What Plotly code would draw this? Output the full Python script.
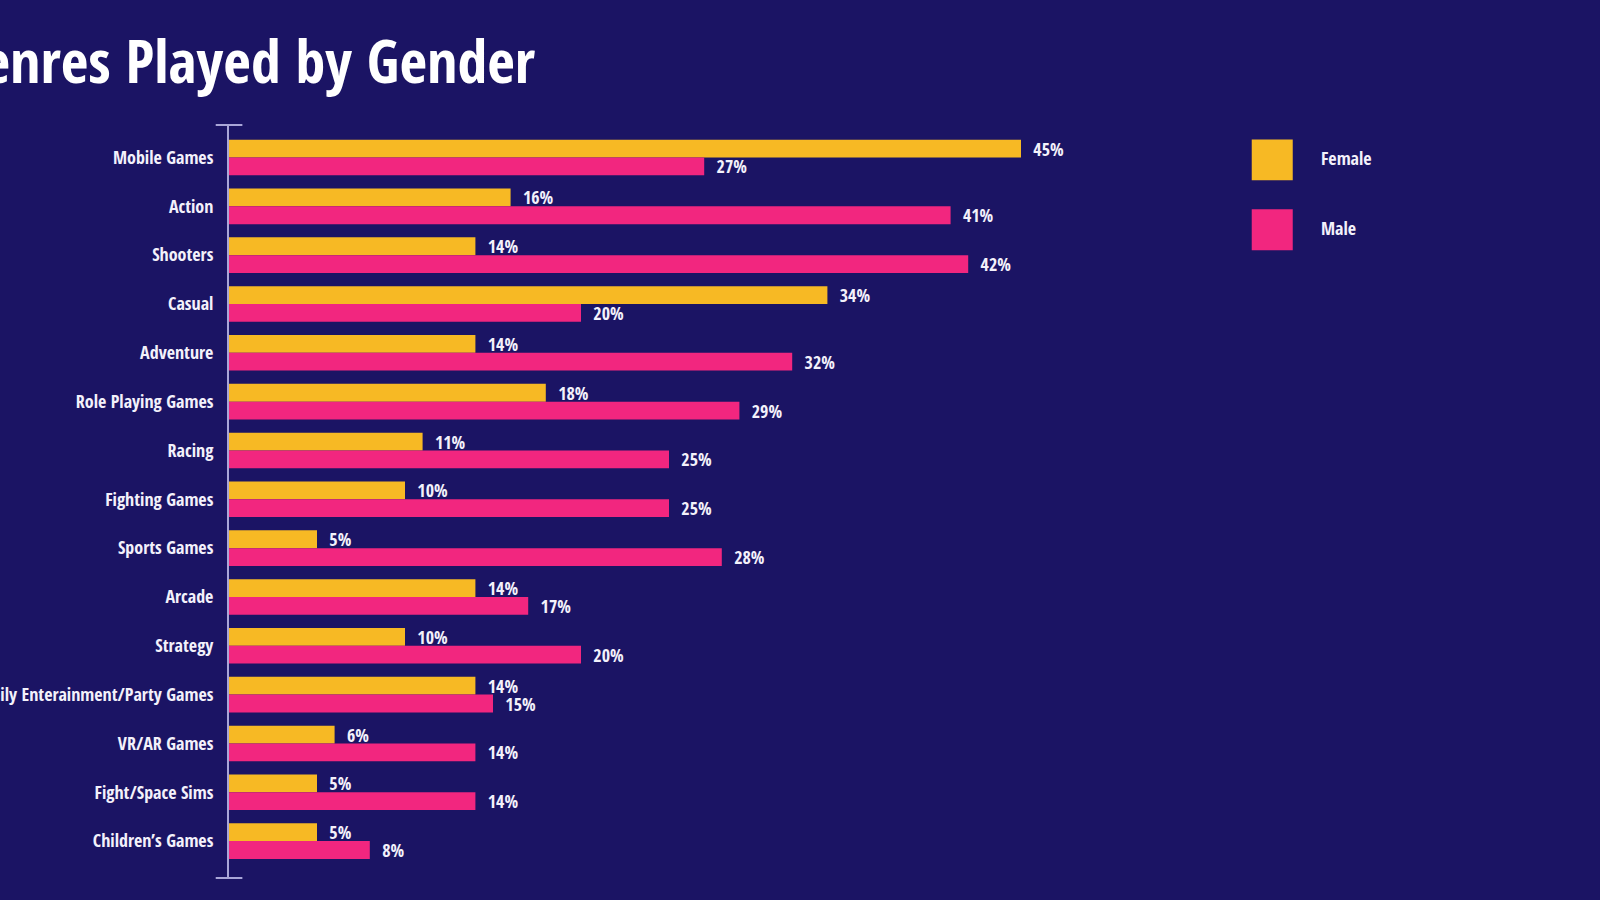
import plotly.graph_objects as go

# genres, top to bottom as they appear in the chart
genres = ["Mobile Games", "Action", "Shooters", "Casual", "Adventure",
          "Role Playing Games", "Racing", "Fighting Games", "Sports Games",
          "Arcade", "Strategy", "Family Enterainment/Party Games",
          "VR/AR Games", "Fight/Space Sims", "Children\u2019s Games"]
female = [45, 16, 14, 34, 14, 18, 11, 10, 5, 14, 10, 14, 6, 5, 5]
male = [27, 41, 42, 20, 32, 29, 25, 25, 28, 17, 20, 15, 14, 14, 8]
series_names = ["Female", "Male"]

BG = "#1b1464"
YELLOW = "#f7b924"
PINK = "#f2267f"
AXIS = "#a9a6d8"
TXT = "#f3f1fb"
FONT = "Open Sans Condensed, Roboto Condensed, DejaVu Sans Condensed, sans-serif"

fig = go.Figure()
for name, vals, col in zip(series_names, [female, male], [YELLOW, PINK]):
    fig.add_trace(go.Bar(
        y=genres, x=vals, name=name, orientation="h",
        marker=dict(color=col, line=dict(width=0)),
        texttemplate="\u00a0\u00a0%{x}%", textposition="outside",
        constraintext="none", cliponaxis=False,
        textfont=dict(family=FONT, size=18, color=TXT, weight="bold"),
        hoverinfo="skip",
    ))

# axis end caps
shapes = []
for yy in [0, 1]:
    shapes.append(dict(type="line", xref="paper", yref="paper",
                       x0=-0.0151, x1=0.0152, y0=yy, y1=yy,
                       line=dict(color=AXIS, width=2)))

# hand-made legend with large swatches
annotations = []
legend_rows = [(0.9806, 0.9266, 0.9567), (0.888, 0.8335, 0.8632)]
for name, col, (top, bot, mid) in zip(series_names, [YELLOW, PINK], legend_rows):
    shapes.append(dict(type="rect", xref="paper", yref="paper",
                       x0=1.1622, x1=1.2088, y0=bot, y1=top,
                       fillcolor=col, line=dict(width=0)))
    annotations.append(dict(text=name, xref="paper", yref="paper",
                            x=1.2383, y=mid, xanchor="left", yanchor="middle",
                            showarrow=False,
                            font=dict(family=FONT, size=18, color=TXT, weight="bold")))

fig.update_layout(
    width=1600, height=900,
    paper_bgcolor=BG, plot_bgcolor=BG,
    margin=dict(l=229, r=491, t=125, b=22, autoexpand=False),
    barmode="group", bargap=0.271, bargroupgap=0,
    showlegend=False,
    title=dict(text="Genres Played by Gender", xref="container",
               x=0.3344, xanchor="right", y=0.931, yanchor="middle",
               font=dict(family=FONT, size=60, color="white", weight="bold")),
    xaxis=dict(range=[0, 50], visible=False, showgrid=False, zeroline=False,
               automargin=False),
    yaxis=dict(categoryorder="array", categoryarray=genres,
               range=[14.756, -0.666], showgrid=False, zeroline=False,
               showline=True, linecolor=AXIS, linewidth=2, automargin=False,
               ticks="", ticklabelstandoff=10,
               tickfont=dict(family=FONT, size=18, color=TXT, weight="bold")),
    shapes=shapes, annotations=annotations,
    font=dict(family=FONT),
)

fig.write_html("out.html", config={"displayModeBar": False},
               post_script="document.body.style.margin='0';")
